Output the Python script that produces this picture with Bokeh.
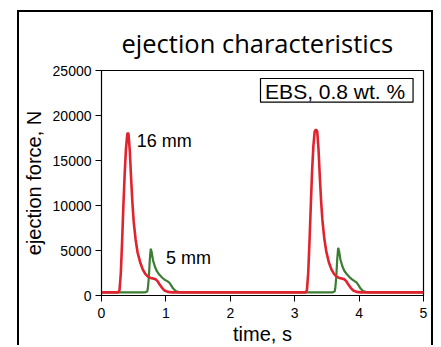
from bokeh.plotting import figure
from bokeh.models import Range1d, FixedTicker, Label, BoxAnnotation, Title
from bokeh.embed import file_html
from bokeh.resources import INLINE

# ---- data ----
red_t = [0, 0.26, 0.28, 0.30, 0.32, 0.34, 0.36, 0.38, 0.40, 0.41, 0.42, 0.44, 0.46, 0.48, 0.50,
         0.53, 0.56, 0.60, 0.64, 0.68, 0.72, 0.76, 0.80, 0.84, 0.87, 0.90, 0.94, 0.98, 1.03, 1.10,
         3.17, 3.19, 3.21, 3.23, 3.25, 3.27, 3.29, 3.31, 3.33, 3.35, 3.37, 3.39, 3.41, 3.43,
         3.46, 3.49, 3.53, 3.57, 3.61, 3.65, 3.69, 3.73, 3.77, 3.80, 3.83, 3.87, 3.91, 3.96, 4.03, 5.0]
red_f = [350, 350, 600, 2500, 6000, 10000, 13500, 16300, 17900, 18100, 17900, 16000, 13000, 10300, 8200,
         6200, 4800, 3700, 2900, 2400, 2100, 1950, 1900, 1800, 1600, 1250, 850, 550, 400, 350,
         350, 600, 2500, 6000, 10000, 13800, 16600, 18200, 18450, 18200, 16200, 13200, 10500, 8400,
         6300, 4900, 3700, 2900, 2400, 2100, 1950, 1900, 1800, 1600, 1250, 850, 550, 400, 350, 350]

green_t = [0, 0.68, 0.71, 0.72, 0.735, 0.75, 0.765, 0.78, 0.80, 0.83, 0.86, 0.90, 0.94, 0.98, 1.02,
           1.05, 1.08, 1.11, 1.15, 1.20, 1.28,
           3.59, 3.62, 3.63, 3.645, 3.66, 3.675, 3.69, 3.71, 3.74, 3.77, 3.81, 3.85, 3.89, 3.93,
           3.96, 3.99, 4.02, 4.06, 4.11, 4.19, 5.0]
green_f = [350, 350, 450, 800, 2000, 4000, 5200, 4800, 3900, 3200, 2700, 2300, 2000, 1750, 1600,
           1450, 1150, 800, 500, 380, 350,
           350, 450, 800, 2000, 4000, 5300, 4900, 4000, 3250, 2750, 2350, 2050, 1800, 1600,
           1450, 1150, 800, 500, 380, 350, 350]

x_ticks = [0, 1, 2, 3, 4, 5]
y_ticks = [0, 5000, 10000, 15000, 20000, 25000]

title_text = "ejection characteristics"
x_label = "time, s"
y_label = "ejection force, N"
box_text = "EBS, 0.8 wt. %"
red_label = "16 mm"
green_label = "5 mm"

RED = "#e0242f"
GREEN = "#3b7d32"
FONT = "Liberation Sans"

p = figure(width=416, height=335, output_backend="svg", toolbar_location=None,
           x_range=Range1d(0, 5), y_range=Range1d(0, 25000),
           min_border_left=79, min_border_right=12, min_border_top=58, min_border_bottom=52)
p.styles = {"border-left": "2px solid black", "border-top": "2px solid black",
            "border-right": "2px solid black", "margin-left": "17px", "margin-top": "10px"}
p.grid.visible = False
p.outline_line_color = "black"
p.outline_line_width = 1.2
p.background_fill_color = "white"
p.border_fill_color = "white"

t = Title(text=title_text, align="left", text_font="Open Sans", text_font_size="25.5px",
          text_font_style="normal", text_color="black", standoff=22, offset=20)
p.add_layout(t, "above")

for ax in (p.xaxis[0], p.yaxis[0]):
    ax.minor_tick_line_color = None
    ax.major_tick_in = 0
    ax.major_tick_out = 6
    ax.major_label_text_font = FONT
    ax.major_label_text_font_size = "14px"
    ax.major_label_text_color = "black"
    ax.axis_label_text_font = FONT
    ax.axis_label_text_font_size = "20px"
    ax.axis_label_text_font_style = "normal"
    ax.axis_label_text_color = "black"
    ax.axis_line_color = "black"
    ax.major_tick_line_color = "black"

p.xaxis.ticker = FixedTicker(ticks=x_ticks)
p.yaxis.ticker = FixedTicker(ticks=y_ticks)
p.xaxis.axis_label = x_label
p.yaxis.axis_label = y_label
p.xaxis.major_label_standoff = 6
p.yaxis.major_label_standoff = 4
p.xaxis.axis_label_standoff = 2
p.yaxis.axis_label_standoff = 5

p.line(green_t, green_f, line_color=GREEN, line_width=2.2)
p.line(red_t, red_f, line_color=RED, line_width=2.6)

p.add_layout(Label(x=0.546, y=17150, text=red_label, text_font=FONT, text_font_size="18px",
                   text_color="black", text_baseline="alphabetic"))
p.add_layout(Label(x=1.003, y=4190, text=green_label, text_font=FONT, text_font_size="18px",
                   text_color="black", text_baseline="alphabetic"))

p.add_layout(BoxAnnotation(left=2.469, right=4.838, bottom=21476, top=24110,
                           fill_color="white", fill_alpha=1.0, line_color="black",
                           line_alpha=1.0, line_width=1.2))
p.add_layout(Label(x=3.628, y=22680, text=box_text, text_font=FONT, text_font_size="21px",
                   text_color="black", text_align="center", text_baseline="alphabetic"))

open("out.html", "w").write(file_html(p, INLINE))
